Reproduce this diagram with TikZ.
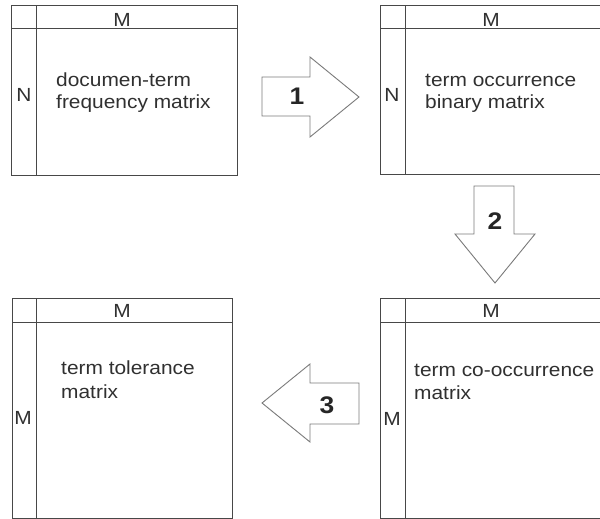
\documentclass[tikz,border=0pt]{standalone}
\usepackage{fontspec}
\newfontfamily\lblfont[FakeStretch=1.1]{Liberation Sans}
\newfontfamily\numfont[FakeStretch=1.1]{Liberation Sans Bold}
\definecolor{boxline}{HTML}{484848}
\definecolor{arrline}{HTML}{7A7A7A}
\definecolor{txt}{HTML}{303030}
\tikzset{
  mbox/.style={draw=boxline, line width=1pt},
  blockarrow/.style={draw=arrline, line width=0.9pt, fill=white, line join=miter},
  lbl/.style={inner sep=0pt, text=txt, font=\lblfont\fontsize{19}{22}\selectfont},
  num/.style={inner sep=0pt, text=black!85, font=\numfont\fontsize{24}{26}\selectfont},
}
\begin{document}
\begin{tikzpicture}[x=1pt, y=-1pt]
\useasboundingbox (0,0) rectangle (600,519);
% ---- box 1: document-term frequency matrix
\draw[mbox] (11,6) rectangle (237,175);
\draw[mbox] (11,29) -- (237,29);
\draw[mbox] (36,6) -- (36,175);
\node[lbl, anchor=base] (b1m) at (122,27) {M};
\node[lbl, anchor=base] (b1n) at (24,102) {N};
\node[lbl, anchor=base west] (b1t1) at (56,87) {documen-term};
\node[lbl, anchor=base west] (b1t2) at (56,108.5) {frequency matrix};
% ---- box 2: term occurrence binary matrix
\draw[mbox] (380,6) rectangle (606,174);
\draw[mbox] (380,29) -- (606,29);
\draw[mbox] (405,6) -- (405,174);
\node[lbl, anchor=base] (b2m) at (491,27) {M};
\node[lbl, anchor=base] (b2n) at (392,102) {N};
\node[lbl, anchor=base west] (b2t1) at (425,87) {term occurrence};
\node[lbl, anchor=base west] (b2t2) at (425,108.5) {binary matrix};
% ---- box 3: term tolerance matrix
\draw[mbox] (12,298) rectangle (232,518);
\draw[mbox] (12,322) -- (232,322);
\draw[mbox] (36,298) -- (36,518);
\node[lbl, anchor=base] (b3m) at (122,317) {M};
\node[lbl, anchor=base] (b3l) at (23,424) {M};
\node[lbl, anchor=base west] (b3t1) at (61,374) {term tolerance};
\node[lbl, anchor=base west] (b3t2) at (61,398) {matrix};
% ---- box 4: term co-occurrence matrix
\draw[mbox] (380,298) rectangle (606,518);
\draw[mbox] (380,322) -- (606,322);
\draw[mbox] (405,298) -- (405,518);
\node[lbl, anchor=base] (b4m) at (491,317) {M};
\node[lbl, anchor=base] (b4l) at (392,425) {M};
\node[lbl, anchor=base west] (b4t1) at (414,376) {term co-occurrence};
\node[lbl, anchor=base west] (b4t2) at (414,399) {matrix};
% ---- block arrow 1 (right)
\draw[blockarrow] (262,77) -- (310,77) -- (310,57) -- (359,97) -- (310,137) -- (310,116) -- (262,116) -- cycle;
\node[num, anchor=base] (n1) at (297,105) {1};
% ---- block arrow 2 (down)
\draw[blockarrow] (474,186) -- (514,186) -- (514,234) -- (535,234) -- (495,283) -- (455,234) -- (474,234) -- cycle;
\node[num, anchor=base] (n2) at (495,229) {2};
% ---- block arrow 3 (left)
\draw[blockarrow] (359,383) -- (310,383) -- (310,364) -- (262,403) -- (310,442) -- (310,424) -- (359,424) -- cycle;
\node[num, anchor=base] (n3) at (327,413) {3};
\end{tikzpicture}
\end{document}
